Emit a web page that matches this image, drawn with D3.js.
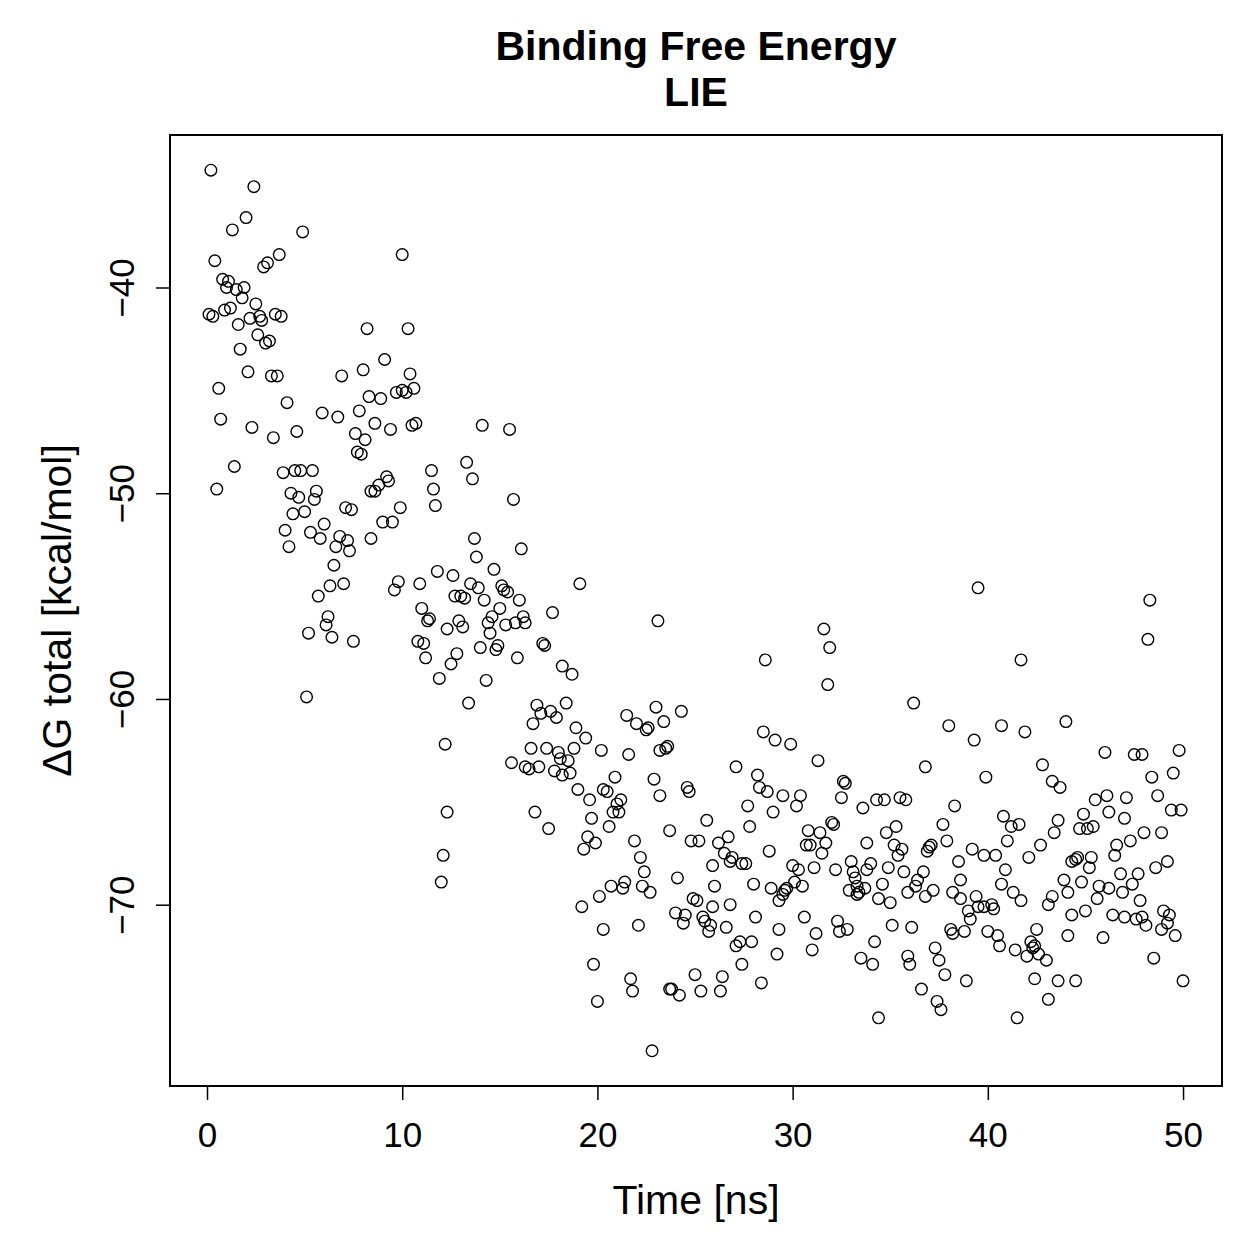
<!DOCTYPE html>
<html>
<head>
<meta charset="utf-8">
<script src="https://cdn.jsdelivr.net/npm/d3@7"></script>
<style>
  body { margin: 0; background: #fff; }
  text { font-family: 'Liberation Sans', Arial, Helvetica, sans-serif; fill: #000; }
</style>
</head>
<body>
<div id="chart"></div>
<script>
// Binding free energy (LIE) samples: [time in ns, dG total in kcal/mol]
const lieSamples = [
  [0.2,-34.3],[2.4,-35.1],[2.0,-36.6],[1.3,-37.2],[4.9,-37.3],[0.4,-38.7],[3.7,-38.4],[3.1,-38.8],[2.9,-39.0],[10.0,-38.4],
  [0.8,-39.6],[1.1,-39.7],[1.0,-40.0],[1.5,-40.1],[1.9,-40.0],[1.8,-40.5],[2.5,-40.8],[0.1,-41.3],[0.3,-41.4],[0.9,-41.1],
  [1.2,-41.0],[1.6,-41.8],[2.2,-41.5],[2.7,-41.4],[2.8,-41.6],[3.5,-41.3],[3.8,-41.4],[8.2,-42.0],[10.3,-42.0],[2.6,-42.3],
  [3.2,-42.6],[3.0,-42.7],[1.7,-43.0],[9.1,-43.5],[2.1,-44.1],[3.3,-44.3],[3.6,-44.3],[6.9,-44.3],[8.0,-44.0],[10.4,-44.2],
  [0.6,-44.9],[8.3,-45.3],[8.9,-45.4],[9.7,-45.1],[10.0,-45.0],[10.2,-45.1],[10.6,-44.9],[4.1,-45.6],[5.9,-46.1],[6.7,-46.3],
  [7.8,-46.0],[8.6,-46.6],[9.4,-46.9],[10.5,-46.7],[10.7,-46.6],[0.7,-46.4],[2.3,-46.8],[3.4,-47.3],[4.6,-47.0],[7.6,-47.1],
  [8.1,-47.4],[7.7,-48.0],[7.9,-48.1],[14.1,-46.7],[15.5,-46.9],
  [1.4,-48.7],[0.5,-49.8],[3.9,-49.0],[4.5,-48.9],[4.8,-48.9],[5.4,-48.9],[4.3,-50.0],[4.7,-50.2],[5.6,-49.9],[5.5,-50.3],
  [4.4,-51.0],[5.0,-50.9],[4.0,-51.8],[4.2,-52.6],[5.3,-51.9],[5.8,-52.2],[6.0,-51.5],[6.8,-52.1],[7.2,-52.3],[6.6,-52.6],
  [7.3,-52.8],[7.1,-50.7],[7.4,-50.8],[8.4,-49.9],[8.6,-49.9],[8.8,-49.6],[9.2,-49.2],[9.3,-49.4],[9.9,-50.7],[9.0,-51.4],
  [9.5,-51.4],[8.4,-52.2],[11.5,-48.9],[11.6,-49.8],[11.7,-50.6],[6.5,-53.5],[6.3,-54.5],[7.0,-54.4],[5.7,-55.0],[9.8,-54.3],
  [9.6,-54.7],[10.9,-54.4],[11.8,-53.8],[6.2,-56.0],[6.1,-56.4],[5.2,-56.8],[6.4,-57.0],[7.5,-57.2],[11.0,-55.6],[11.3,-56.2],
  [11.4,-56.1],[10.8,-57.2],[11.1,-57.3],[11.2,-58.0],[11.9,-59.0],[5.1,-59.9],[12.2,-62.2],
  [13.3,-48.5],[13.6,-49.3],[15.7,-50.3],[13.7,-52.2],[13.8,-53.1],[16.1,-52.7],[14.7,-53.7],[12.6,-54.0],[13.5,-54.4],[13.9,-54.6],
  [12.7,-55.0],[13.0,-55.0],[13.2,-55.1],[14.2,-55.2],[15.1,-54.5],[15.2,-54.7],[15.4,-54.8],[16.0,-55.2],[19.1,-54.4],[15.0,-55.6],
  [14.6,-56.0],[14.4,-56.3],[12.9,-56.2],[13.1,-56.5],[12.3,-56.6],[15.3,-56.4],[15.8,-56.3],[16.2,-56.0],[16.3,-56.3],[17.7,-55.8],
  [23.1,-56.2],[14.5,-56.8],[14.0,-57.5],[14.9,-57.4],[14.8,-57.6],[12.8,-57.8],[12.5,-58.3],[15.9,-58.0],[17.2,-57.3],[17.3,-57.4],
  [18.2,-58.4],[18.7,-58.8],[14.3,-59.1],[13.4,-60.2],[16.9,-60.3],[18.4,-60.2],[17.1,-60.7],[17.6,-60.6],[17.9,-60.9],[16.7,-61.2],
  [18.9,-61.4],[19.4,-61.9],[21.5,-60.8],[22.0,-61.2],[22.5,-61.5],[22.6,-61.4],[23.0,-60.4],[23.4,-61.1],[24.3,-60.6],[16.6,-62.4],
  [17.4,-62.4],[18.0,-62.6],[18.8,-62.4],[20.2,-62.5],[21.6,-62.7],[23.2,-62.5],[23.6,-62.3],[23.5,-62.4],
  [31.6,-56.6],[31.9,-57.5],[28.6,-58.1],[31.8,-59.3],[36.2,-60.2],[38.0,-61.3],[28.5,-61.6],[29.1,-62.0],[29.9,-62.2],
  [39.5,-54.6],[48.3,-55.2],[48.2,-57.1],[41.7,-58.1],[39.3,-62.0],[40.7,-61.3],[41.9,-61.6],[44.0,-61.1],[46.0,-62.6],[47.5,-62.7],
  [47.9,-62.7],[49.8,-62.5],
  [12.3,-65.5],[12.1,-67.6],[12.0,-68.9],
  [15.6,-63.1],[16.3,-63.3],[16.5,-63.4],[17.0,-63.3],[18.1,-62.9],[18.5,-63.0],[17.8,-63.5],[18.2,-63.7],[18.6,-63.6],[20.9,-63.8],
  [22.9,-63.9],[24.6,-64.3],[24.7,-64.5],[19.0,-64.4],[19.6,-64.9],[20.3,-64.4],[20.5,-64.5],[23.2,-64.7],[21.2,-64.9],[21.0,-65.1],
  [20.8,-65.5],[21.1,-65.5],[16.8,-65.5],[17.5,-66.3],[19.7,-65.8],[20.6,-66.2],[23.7,-66.4],[19.5,-66.7],[19.9,-67.0],[19.3,-67.3],
  [21.9,-66.9],[24.8,-66.9],[25.2,-66.9],[22.2,-67.7],[22.4,-68.4],[24.1,-68.7],[21.4,-68.9],[21.3,-69.2],[20.7,-69.1],[22.3,-69.1],
  [22.7,-69.4],[20.1,-69.6],[19.2,-70.1],[24.9,-69.7],[25.1,-69.8],[24.0,-70.4],[24.5,-70.5],[24.4,-70.9],[20.3,-71.2],[22.1,-71.0],
  [19.8,-72.9],[21.7,-73.6],[21.8,-74.2],[23.7,-74.1],[23.8,-74.1],[24.2,-74.4],[25.0,-73.4],[25.3,-74.2],[20.0,-74.7],[22.8,-77.1],
  [27.1,-63.3],[31.3,-63.0],[36.8,-63.3],[28.2,-63.7],[28.3,-64.3],[28.7,-64.5],[29.5,-64.7],[30.4,-64.7],[30.2,-65.2],[27.7,-65.2],
  [29.0,-65.5],[25.6,-65.9],[27.8,-66.2],[32.6,-64.0],[32.7,-64.1],[32.5,-64.8],[33.6,-65.3],[34.3,-64.9],[34.7,-64.9],[35.5,-64.8],
  [35.8,-64.9],[38.3,-65.2],[32.0,-66.0],[32.1,-66.1],[30.8,-66.4],[31.4,-66.5],[31.7,-67.0],[30.7,-67.1],[30.9,-67.1],[31.5,-67.5],
  [33.8,-67.0],[34.8,-66.5],[35.3,-66.2],[37.7,-66.1],[37.9,-66.9],[35.2,-67.1],[35.6,-67.3],[35.4,-67.6],[37.0,-67.2],[37.1,-67.1],
  [36.9,-67.4],[26.7,-66.7],[26.2,-67.0],[26.5,-67.5],[26.9,-67.7],[26.8,-67.9],[27.4,-68.0],[27.6,-68.0],[28.8,-67.4],[25.9,-68.1],
  [30.0,-68.1],[30.3,-68.3],[31.1,-68.2],[32.2,-68.3],[33.0,-67.9],[34.0,-68.0],[33.8,-68.3],[33.1,-68.4],[33.2,-68.7],[33.3,-69.1],
  [34.9,-68.2],[35.7,-68.4],[36.7,-68.4],[36.4,-68.8],[36.3,-69.1],[26.0,-69.1],[28.0,-69.0],[30.1,-68.9],[30.5,-69.1],[28.9,-69.2],
  [29.7,-69.2],[29.6,-69.3],[29.5,-69.5],[29.3,-69.8],[32.9,-69.3],[33.4,-69.4],[33.7,-69.2],[33.3,-69.5],[34.6,-69.0],[34.4,-69.7],
  [35.0,-69.9],[35.9,-69.4],[36.8,-69.6],[37.2,-69.3],[25.9,-70.1],[26.8,-70.0],[25.4,-70.6],[25.5,-70.8],[25.8,-71.0],[25.7,-71.3],
  [26.6,-71.1],[28.1,-70.6],[30.6,-70.6],[29.3,-71.2],[31.2,-71.4],[32.3,-70.8],[32.8,-71.2],[32.4,-71.3],[35.1,-71.0],[36.1,-71.1],
  [38.1,-71.2],[38.2,-71.4],[27.3,-71.8],[27.1,-72.0],[27.9,-71.8],[29.2,-72.4],[31.0,-72.2],[34.2,-71.8],[33.5,-72.6],[34.1,-72.9],
  [35.9,-72.5],[36.0,-72.9],[37.3,-72.1],[37.5,-72.7],[37.8,-73.4],[27.4,-72.9],[26.4,-73.5],[26.3,-74.2],[28.4,-73.8],[36.6,-74.1],
  [37.4,-74.7],[37.6,-75.1],[34.4,-75.5],
  [42.8,-63.2],[39.9,-63.8],[43.3,-64.0],[43.7,-64.3],[48.4,-63.8],[49.5,-63.6],[45.5,-64.9],[46.1,-64.7],[47.1,-64.8],[48.7,-64.7],
  [40.8,-65.7],[41.2,-66.2],[41.6,-66.1],[43.6,-65.9],[44.9,-65.6],[46.2,-65.5],[47.0,-65.8],[49.4,-65.4],[49.9,-65.4],[44.7,-66.3],
  [45.1,-66.3],[45.4,-66.2],[43.4,-66.5],[42.7,-67.1],[41.0,-66.9],[39.2,-67.3],[39.8,-67.6],[40.4,-67.6],[42.1,-67.7],[46.6,-67.1],
  [47.3,-66.9],[48.0,-66.5],[48.9,-66.5],[38.5,-67.9],[40.9,-68.3],[44.3,-67.9],[44.5,-67.8],[44.6,-67.7],[45.3,-67.7],[45.2,-68.2],
  [46.5,-67.6],[49.2,-67.9],[48.6,-68.2],[38.6,-68.8],[40.7,-69.0],[41.3,-69.4],[41.7,-69.8],[43.9,-68.8],[44.1,-69.4],[44.8,-68.9],
  [45.7,-69.1],[46.2,-69.2],[46.8,-68.5],[46.9,-69.4],[47.4,-69.0],[47.7,-68.5],[38.2,-69.4],[38.6,-69.7],[39.4,-69.6],[39.5,-70.1],
  [39.8,-70.1],[40.2,-70.0],[40.3,-70.2],[43.3,-69.6],[43.1,-70.0],[45.6,-69.7],[47.8,-69.8],[39.0,-70.3],[39.1,-70.7],[38.8,-71.3],
  [44.3,-70.5],[45.0,-70.3],[46.4,-70.5],[47.0,-70.6],[47.6,-70.7],[47.9,-70.6],[48.1,-71.0],[48.9,-71.2],[49.0,-70.3],[49.3,-70.5],
  [49.2,-70.9],[49.6,-71.5],[40.0,-71.3],[40.5,-71.5],[40.6,-72.0],[41.4,-72.2],[42.0,-72.5],[42.2,-71.8],[42.4,-72.0],[42.3,-72.1],
  [42.5,-71.2],[42.6,-72.4],[43.0,-72.7],[44.1,-71.5],[45.9,-71.6],[48.5,-72.6],[38.9,-73.7],[42.4,-73.6],[43.6,-73.7],[44.5,-73.7],
  [50.0,-73.7],[43.1,-74.6],[41.5,-75.5]
];

const xTicks = [0, 10, 20, 30, 40, 50];
const yTicks = [-40, -50, -60, -70];
const titleLines = ['Binding Free Energy', 'LIE'];
const xLabel = 'Time [ns]';
const yLabel = '\u0394G total [kcal/mol]';

///////// Initialization //////////
const W = 1259, H = 1259;
const margin = { top: 135, right: 37, bottom: 173, left: 170 };
const width = W - margin.left - margin.right;
const height = H - margin.top - margin.bottom;

const svg = d3
  .select('#chart')
  .append('svg')
  .attr('width', W)
  .attr('height', H);

svg.append('rect').attr('width', W).attr('height', H).attr('fill', '#fff');

const group = svg
  .append('g')
  .attr('transform', 'translate(' + margin.left + ',' + margin.top + ')');

// R style: data range padded by 4% on each side
const xExt = d3.extent(lieSamples, (d) => d[0]);
const yExt = d3.extent(lieSamples, (d) => d[1]);
const xPad = (xExt[1] - xExt[0]) * 0.04;
const yPad = (yExt[1] - yExt[0]) * 0.04;

const xScale = d3.scaleLinear().domain([xExt[0] - xPad, xExt[1] + xPad]).range([0, width]);
const yScale = d3.scaleLinear().domain([yExt[0] - yPad, yExt[1] + yPad]).range([height, 0]);

// Points (pch = 1)
group
  .append('g')
  .selectAll('circle')
  .data(lieSamples)
  .enter()
  .append('circle')
  .attr('cx', (d) => xScale(d[0]))
  .attr('cy', (d) => yScale(d[1]))
  .attr('r', 5.8)
  .attr('fill', 'none')
  .attr('stroke', '#000')
  .attr('stroke-width', 1.4);

// Axes
const xAxis = d3.axisBottom(xScale).tickValues(xTicks).tickSize(14).tickPadding(22);
const xAxisGroup = group
  .append('g')
  .attr('transform', 'translate(0,' + height + ')')
  .call(xAxis);
xAxisGroup.select('.domain').remove();
xAxisGroup
  .append('line')
  .attr('x1', xScale(xTicks[0]))
  .attr('x2', xScale(xTicks[xTicks.length - 1]))
  .attr('stroke', '#000')
  .attr('stroke-width', 1.5);

const yAxis = d3.axisLeft(yScale).tickValues(yTicks).tickSize(14);
const yAxisGroup = group.append('g').call(yAxis);
yAxisGroup.select('.domain').remove();
yAxisGroup
  .append('line')
  .attr('y1', yScale(yTicks[0]))
  .attr('y2', yScale(yTicks[yTicks.length - 1]))
  .attr('stroke', '#000')
  .attr('stroke-width', 1.5);
yAxisGroup
  .selectAll('.tick text')
  .attr('transform', 'rotate(-90)')
  .attr('x', 0)
  .attr('y', -36)
  .attr('dy', 0)
  .attr('text-anchor', 'middle');

group.selectAll('.tick line').attr('stroke', '#000').attr('stroke-width', 1.5);
group
  .selectAll('.tick text')
  .attr('font-family', "'Liberation Sans', Arial, Helvetica, sans-serif")
  .attr('font-size', 35)
  .attr('fill', '#000');

// Box
group
  .append('rect')
  .attr('width', width)
  .attr('height', height)
  .attr('fill', 'none')
  .attr('stroke', '#000')
  .attr('stroke-width', 2);

// Titles and labels
svg
  .selectAll('.title')
  .data(titleLines)
  .enter()
  .append('text')
  .attr('class', 'title')
  .attr('x', margin.left + width / 2)
  .attr('y', (d, i) => 60 + i * 46)
  .attr('text-anchor', 'middle')
  .attr('font-size', 41)
  .attr('font-weight', 'bold')
  .text((d) => d);

svg
  .append('text')
  .attr('x', margin.left + width / 2)
  .attr('y', 1214)
  .attr('text-anchor', 'middle')
  .attr('font-size', 41)
  .text(xLabel);

svg
  .append('text')
  .attr('transform', 'translate(71,' + (margin.top + height / 2) + ') rotate(-90)')
  .attr('text-anchor', 'middle')
  .attr('font-size', 41)
  .text(yLabel);
</script>
</body>
</html>
